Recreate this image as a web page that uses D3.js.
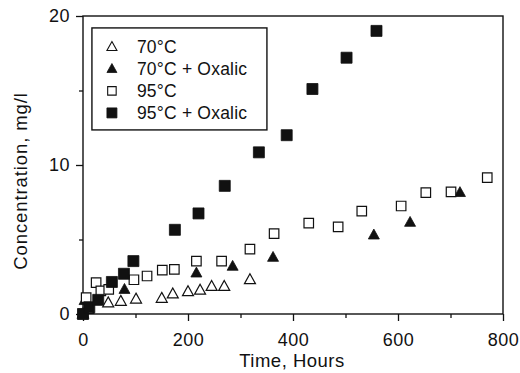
<!DOCTYPE html>
<html>
<head>
<meta charset="utf-8">
<script src="https://cdn.jsdelivr.net/npm/d3@7"></script>
<style>
  body { margin: 0; background: #fff; }
  svg text { font-family: "Liberation Sans", Arial, Helvetica, sans-serif; fill: #111; }
</style>
</head>
<body>
<svg id="chart" width="520" height="373"></svg>
<script>
// 70°C, open triangles
const t70 = [0, 10, 48, 72, 101, 150, 171, 200, 223, 245, 269, 318];
const c70 = [0, 0.3, 0.75, 0.85, 1.0, 1.05, 1.35, 1.5, 1.6, 1.85, 1.85, 2.3];
// 70°C + oxalic, filled triangles
const t70ox = [0, 3, 79, 216, 285, 362, 554, 623, 718];
const c70ox = [0, 0.9, 1.65, 2.75, 3.2, 3.8, 5.3, 6.15, 8.15];
// 95°C, open squares
const t95 = [0, 6, 25, 34, 49, 97, 122, 151, 174, 216, 264, 318, 364, 430, 486, 531, 606, 653, 701, 770];
const c95 = [0, 1.1, 2.1, 1.55, 1.65, 2.3, 2.55, 2.95, 3.0, 3.55, 3.55, 4.35, 5.4, 6.1, 5.85, 6.9, 7.25, 8.15, 8.2, 9.15];
// 95°C + oxalic, filled squares
const t95ox = [0, 12, 29, 55, 78, 96, 175, 220, 270, 335, 388, 437, 502, 559];
const c95ox = [0, 0.45, 0.95, 2.15, 2.7, 3.55, 5.65, 6.75, 8.6, 10.85, 12.0, 15.1, 17.2, 19.0];

const xTicks = [0, 200, 400, 600, 800];
const xMinor = [100, 300, 500, 700];
const yTicks = [0, 10, 20];
const yMinor = [5, 15];

const series = [
  { label: "70°C", t: t70, c: c70, shape: "tri", filled: false },
  { label: "70°C + Oxalic", t: t70ox, c: c70ox, shape: "tri", filled: true },
  { label: "95°C", t: t95, c: c95, shape: "sq", filled: false },
  { label: "95°C + Oxalic", t: t95ox, c: c95ox, shape: "sq", filled: true },
];

const svg = d3.select("#chart");
const margin = { top: 16, right: 17, bottom: 59, left: 83 };
const width = 520 - margin.left - margin.right;
const height = 373 - margin.top - margin.bottom;

const x = d3.scaleLinear().domain([0, 800]).range([0, width]);
const y = d3.scaleLinear().domain([0, 20]).range([height, 0]);

const g = svg.append("g").attr("transform", `translate(${margin.left},${margin.top})`);

function symbolPath(shape, size) {
  if (shape === "tri") {
    const h = size * 0.9;
    return `M0,${-h * 0.6}L${size / 2},${h * 0.4}L${-size / 2},${h * 0.4}Z`;
  }
  const s = size / 2;
  return `M${-s},${-s}H${s}V${s}H${-s}Z`;
}

// frame
g.append("rect")
  .attr("width", width).attr("height", height)
  .attr("fill", "none").attr("stroke", "#111").attr("stroke-width", 1.4);

// axes
g.append("g").attr("transform", `translate(0,${height})`)
  .call(d3.axisBottom(x).tickValues(xTicks).tickSize(7).tickPadding(12).tickFormat(d3.format("d")));
g.append("g").attr("transform", `translate(0,${height})`)
  .call(d3.axisBottom(x).tickValues(xMinor).tickSize(4).tickFormat(""));
g.append("g")
  .call(d3.axisLeft(y).tickValues(yTicks).tickSize(7).tickPadding(6));
g.append("g")
  .call(d3.axisLeft(y).tickValues(yMinor).tickSize(4).tickFormat(""));

g.selectAll(".domain").remove();
g.selectAll(".tick line").attr("stroke", "#111").attr("stroke-width", 1.3);
g.selectAll(".tick text").attr("font-size", 18).attr("fill", "#111")
  .style("font-family", "'Liberation Sans', Arial, sans-serif")
  .style("letter-spacing", "0.5px");

// points
series.forEach((s) => {
  const size = s.shape === "sq" ? (s.filled ? 11 : 9.5) : 11;
  g.append("g").selectAll("path")
    .data(s.t.map((t, i) => ({ t, c: s.c[i] })))
    .join("path")
    .attr("transform", (d) => `translate(${x(d.t)},${y(d.c)})`)
    .attr("d", symbolPath(s.shape, size))
    .attr("fill", s.filled ? "#111" : "#fff")
    .attr("stroke", "#111")
    .attr("stroke-width", s.filled ? 0.8 : 1.2);
});

// legend
const legend = g.append("g").attr("transform", `translate(${x(17)},${y(19.2)})`);
legend.append("rect")
  .attr("width", 175).attr("height", 102)
  .attr("fill", "#fff").attr("stroke", "#111").attr("stroke-width", 1.4);
series.forEach((s, i) => {
  const row = legend.append("g").attr("transform", `translate(20,${19 + i * 22})`);
  row.append("path")
    .attr("d", symbolPath(s.shape, s.shape === "sq" ? (s.filled ? 10 : 8.5) : 10))
    .attr("fill", s.filled ? "#111" : "#fff")
    .attr("stroke", "#111").attr("stroke-width", s.filled ? 0.8 : 1.1);
  row.append("text")
    .attr("x", 25).attr("y", 6)
    .attr("font-size", 17.5)
    .style("letter-spacing", "0.2px")
    .text(s.label);
});

// axis titles
svg.append("text")
  .attr("x", 292).attr("y", 367)
  .attr("text-anchor", "middle")
  .attr("font-size", 18.5)
  .style("letter-spacing", "0.5px")
  .text("Time, Hours");
svg.append("text")
  .attr("transform", "translate(27,181) rotate(-90)")
  .attr("text-anchor", "middle")
  .attr("font-size", 18.5)
  .style("letter-spacing", "0.9px")
  .text("Concentration, mg/l");
</script>
</body>
</html>
